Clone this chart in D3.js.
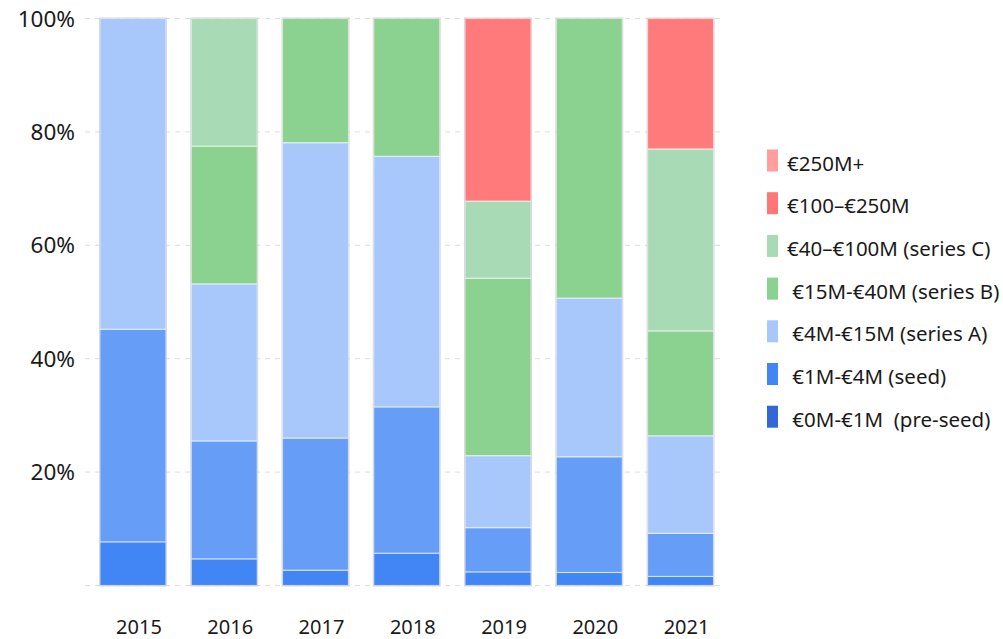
<!DOCTYPE html>
<html>
<head>
<meta charset="utf-8">
<script src="https://cdn.jsdelivr.net/npm/d3@7/dist/d3.min.js"></script>
<style>
  html, body { margin: 0; padding: 0; background: #fff; }
  svg { display: block; font-family: "Noto Sans", sans-serif; }
</style>
</head>
<body>
<svg id="chart" width="1003" height="639"></svg>
<script>
// ---- data ----
const years = ["2015", "2016", "2017", "2018", "2019", "2020", "2021"];
const seriesNames = [
  "€0M-€1M  (pre-seed)",
  "€1M-€4M (seed)",
  "€4M-€15M (series A)",
  "€15M-€40M (series B)",
  "€40–€100M (series C)",
  "€100–€250M",
  "€250M+"
];
// legend labels (top to bottom), with their leading spaces as in the original
const legendLabels = [
  "€250M+",
  "€100–€250M",
  "€40–€100M (series C)",
  " €15M-€40M (series B)",
  " €4M-€15M (series A)",
  " €1M-€4M (seed)",
  " €0M-€1M  (pre-seed)"
];
// percentage share per year, one array per series
const preSeed  = [7.7, 4.7, 2.7, 5.7, 2.4, 2.3, 1.6];
const seed     = [37.5, 20.8, 23.3, 25.8, 7.8, 20.4, 7.6];
const seriesA  = [54.8, 27.7, 52.1, 44.2, 12.7, 28.0, 17.2];
const seriesB  = [0, 24.3, 21.9, 24.3, 31.3, 49.3, 18.5];
const seriesC  = [0, 22.5, 0, 0, 13.6, 0, 32.1];
const m100_250 = [0, 0, 0, 0, 32.2, 0, 23.0];
const m250plus = [0, 0, 0, 0, 0, 0, 0];
const yTicks = [20, 40, 60, 80, 100];

const seriesValues = [preSeed, seed, seriesA, seriesB, seriesC, m100_250, m250plus];
const barColors    = ["#4285f4", "#669df6", "#a8c7fa", "#8bd190", "#a8dab5", "#ff7b7b", "#ff9e9e"];
const legendColors = ["#3367d6", "#4285f4", "#a8c7fa", "#8bd190", "#a8dab5", "#ff7676", "#ff9e9e"];

// ---- build table ----
const table = years.map((yr, i) => {
  const row = { year: yr };
  seriesNames.forEach((s, k) => row[s] = seriesValues[k][i]);
  return row;
});
const stack = d3.stack().keys(seriesNames)(table);

const svg = d3.select("#chart");
const x = d3.scaleBand().domain(years).range([85, 728.5]).paddingInner(0.277).paddingOuter(0.164);
const y = d3.scaleLinear().domain([0, 100]).range([585.5, 18.5]);

// gridlines
svg.append("g").selectAll("line").data([0].concat(yTicks)).join("line")
  .attr("x1", 85).attr("x2", 722)
  .attr("y1", d => y(d)).attr("y2", d => y(d))
  .attr("stroke", "#dcdcdc").attr("stroke-width", 1)
  .attr("stroke-dasharray", "5,5");

// y tick labels
svg.append("g").selectAll("text").data(yTicks).join("text")
  .attr("x", 75).attr("y", d => y(d))
  .attr("dy", "0.36em")
  .attr("text-anchor", "end")
  .attr("font-size", 22.5).attr("fill", "#1a1a1a")
  .text(d => d + "%");

// x labels
const xAxis = d3.axisBottom(x).tickSize(0).tickPadding(0);
const gx = svg.append("g").attr("transform", "translate(6,634)").call(xAxis);
gx.select(".domain").remove();
gx.selectAll("text").attr("font-size", 20).attr("fill", "#1a1a1a")
  .attr("font-family", "Noto Sans").attr("dy", 0);

// bars
const layers = svg.append("g").selectAll("g").data(stack).join("g")
  .attr("fill", (d, i) => barColors[i]);
layers.selectAll("rect").data(d => d.filter(p => p[1] - p[0] > 0)).join("rect")
  .attr("x", d => x(d.data.year))
  .attr("width", x.bandwidth())
  .attr("y", d => y(d[1]))
  .attr("height", d => y(d[0]) - y(d[1]))
  .attr("stroke", "rgba(255,255,255,0.55)")
  .attr("stroke-width", 1.2);

// bar outlines
svg.append("g").selectAll("rect").data(table).join("rect")
  .attr("x", d => x(d.year) - 0.5)
  .attr("width", x.bandwidth() + 1)
  .attr("y", y(100) - 0.5)
  .attr("height", y(0) - y(100) + 1)
  .attr("fill", "none")
  .attr("stroke", "rgba(190,190,200,0.6)")
  .attr("stroke-width", 1);

// legend
const lg = svg.append("g").attr("transform", "translate(767,0)");
const item = lg.selectAll("g").data(legendLabels).join("g")
  .attr("transform", (d, i) => `translate(0,${171.5 + i * 42.7})`);
item.append("rect")
  .attr("x", 0).attr("y", -22).attr("width", 11).attr("height", 22)
  .attr("fill", (d, i) => legendColors[legendColors.length - 1 - i]);
item.append("text")
  .attr("x", 20).attr("y", -1)
  .attr("font-size", 20.5).attr("fill", "#1a1a1a")
  .style("white-space", "pre")
  .attr("xml:space", "preserve")
  .text(d => d);
</script>
</body>
</html>
